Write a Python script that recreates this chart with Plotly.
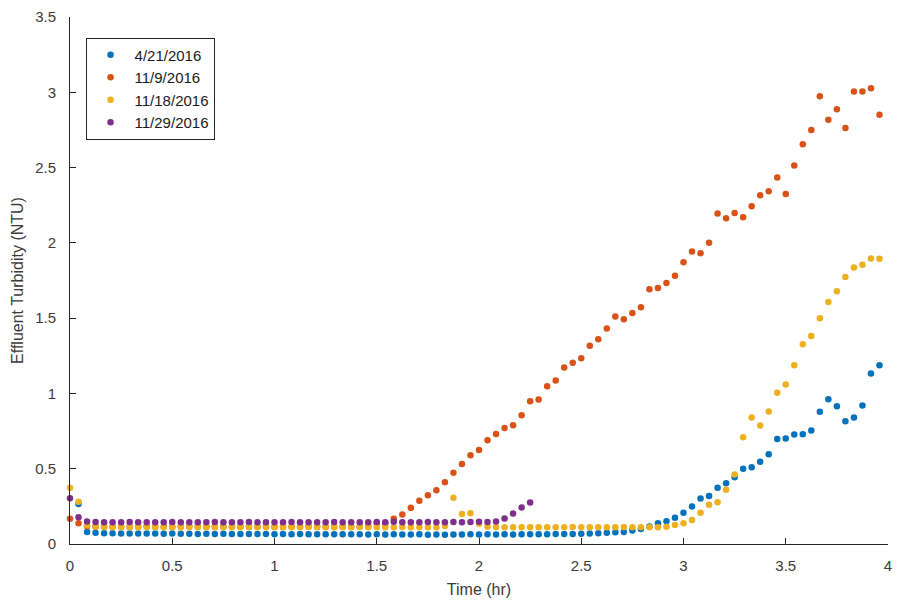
import plotly.graph_objects as go

# Sampling times (minutes from start of run), one reading every 2.5 min
time_min = [
    0, 2.5, 5, 7.5, 10, 12.5, 15, 17.5, 20, 22.5,
    25, 27.5, 30, 32.5, 35, 37.5, 40, 42.5, 45, 47.5,
    50, 52.5, 55, 57.5, 60, 62.5, 65, 67.5, 70, 72.5,
    75, 77.5, 80, 82.5, 85, 87.5, 90, 92.5, 95, 97.5,
    100, 102.5, 105, 107.5, 110, 112.5, 115, 117.5, 120, 122.5,
    125, 127.5, 130, 132.5, 135, 137.5, 140, 142.5, 145, 147.5,
    150, 152.5, 155, 157.5, 160, 162.5, 165, 167.5, 170, 172.5,
    175, 177.5, 180, 182.5, 185, 187.5, 190, 192.5, 195, 197.5,
    200, 202.5, 205, 207.5, 210, 212.5, 215, 217.5, 220, 222.5,
    225, 227.5, 230, 232.5, 235, 237.5,
]

# Effluent turbidity (NTU) per run
turb_0421 = [
    None, 0.265, 0.080, 0.074, 0.072, 0.071, 0.070, 0.070, 0.069, 0.070,
    0.069, 0.068, 0.069, 0.068, 0.068, 0.067, 0.068, 0.067, 0.068, 0.066,
    0.067, 0.066, 0.066, 0.067, 0.065, 0.066, 0.065, 0.066, 0.065, 0.064,
    0.065, 0.064, 0.065, 0.064, 0.064, 0.063, 0.064, 0.063, 0.064, 0.063,
    0.063, 0.064, 0.062, 0.063, 0.062, 0.063, 0.063, 0.064, 0.063, 0.064,
    0.063, 0.064, 0.063, 0.064, 0.065, 0.064, 0.065, 0.066, 0.066, 0.067,
    0.068, 0.070, 0.071, 0.074, 0.078, 0.080, 0.090, 0.100, 0.116, 0.138,
    0.151, 0.174, 0.207, 0.249, 0.302, 0.318, 0.373, 0.404, 0.444, 0.499,
    0.510, 0.546, 0.596, 0.698, 0.700, 0.727, 0.729, 0.753, 0.878, 0.962,
    0.915, 0.816, 0.840, 0.920, 1.132, 1.187,
]

turb_1109 = [
    0.167, 0.138, 0.118, 0.116, 0.115, 0.116, 0.115, 0.114, 0.115, 0.116,
    0.115, 0.114, 0.115, 0.116, 0.115, 0.115, 0.114, 0.115, 0.116, 0.115,
    0.114, 0.115, 0.115, 0.116, 0.115, 0.114, 0.115, 0.115, 0.116, 0.115,
    0.114, 0.115, 0.116, 0.115, 0.116, 0.118, 0.140, 0.135, 0.167, 0.196,
    0.240, 0.287, 0.324, 0.357, 0.410, 0.473, 0.532, 0.590, 0.625, 0.689,
    0.731, 0.771, 0.789, 0.855, 0.948, 0.959, 1.048, 1.086, 1.172, 1.203,
    1.234, 1.316, 1.360, 1.431, 1.511, 1.493, 1.534, 1.573, 1.692, 1.701,
    1.734, 1.781, 1.871, 1.942, 1.931, 2.000, 2.195, 2.164, 2.199, 2.170,
    2.243, 2.316, 2.343, 2.434, 2.325, 2.513, 2.655, 2.750, 2.973, 2.817,
    2.887, 2.763, 3.005, 3.005, 3.027, 2.850,
]

turb_1118 = [
    0.373, 0.280, 0.125, 0.114, 0.113, 0.112, 0.112, 0.111, 0.112, 0.113,
    0.112, 0.111, 0.112, 0.112, 0.113, 0.112, 0.111, 0.112, 0.112, 0.111,
    0.112, 0.113, 0.112, 0.111, 0.112, 0.112, 0.111, 0.112, 0.113, 0.112,
    0.112, 0.111, 0.112, 0.112, 0.113, 0.112, 0.111, 0.112, 0.112, 0.113,
    0.112, 0.112, 0.111, 0.112, 0.120, 0.307, 0.200, 0.205, 0.134, 0.114,
    0.113, 0.112, 0.112, 0.111, 0.112, 0.112, 0.111, 0.112, 0.112, 0.113,
    0.112, 0.112, 0.111, 0.112, 0.112, 0.113, 0.112, 0.112, 0.112, 0.112,
    0.114, 0.127, 0.138, 0.160, 0.207, 0.260, 0.278, 0.360, 0.461, 0.709,
    0.840, 0.787, 0.880, 1.004, 1.059, 1.187, 1.327, 1.381, 1.499, 1.608,
    1.679, 1.774, 1.836, 1.854, 1.896, 1.894,
]

turb_1129 = [
    0.304, 0.178, 0.150, 0.146, 0.145, 0.144, 0.145, 0.146, 0.145, 0.144,
    0.145, 0.145, 0.146, 0.145, 0.144, 0.145, 0.145, 0.146, 0.145, 0.144,
    0.145, 0.146, 0.145, 0.145, 0.144, 0.145, 0.146, 0.145, 0.144, 0.145,
    0.145, 0.146, 0.145, 0.144, 0.145, 0.145, 0.146, 0.145, 0.147, 0.145,
    0.144, 0.145, 0.146, 0.145, 0.145, 0.146, 0.145, 0.146, 0.147, 0.146,
    0.149, 0.170, 0.203, 0.243, 0.275,
]

run_labels = ["4/21/2016", "11/9/2016", "11/18/2016", "11/29/2016"]
run_values = [turb_0421, turb_1109, turb_1118, turb_1129]
run_colors = ["#0072BD", "#D95319", "#EDB120", "#7E2F8E"]

x_ticks = [0, 0.5, 1, 1.5, 2, 2.5, 3, 3.5, 4]
y_ticks = [0, 0.5, 1, 1.5, 2, 2.5, 3, 3.5]

FONT = "Liberation Sans, Arial, Helvetica, sans-serif"
INK = "#262626"
TEXT = "#3a3a3a"

fig = go.Figure()
for label, vals, color in zip(run_labels, run_values, run_colors):
    hours = [m / 60 for m in time_min[: len(vals)]]
    fig.add_trace(
        go.Scatter(
            x=hours,
            y=vals,
            mode="markers",
            name=label,
            marker=dict(color=color, size=6.5, line=dict(width=0)),
            cliponaxis=False,
        )
    )

axis_common = dict(
    showgrid=False,
    zeroline=False,
    showline=True,
    linecolor=INK,
    linewidth=1,
    mirror=False,
    ticks="inside",
    ticklen=6,
    tickwidth=1,
    tickcolor=INK,
    tickfont=dict(family=FONT, size=15, color=TEXT),
)

fig.update_layout(
    width=899,
    height=605,
    paper_bgcolor="white",
    plot_bgcolor="white",
    margin=dict(l=70, r=7, t=17, b=61),
    font=dict(family=FONT, color=TEXT),
    xaxis=dict(
        range=[0, 4],
        tickvals=x_ticks,
        ticktext=[f"{v:g}" for v in x_ticks],
        ticklabelstandoff=8,
        title=dict(text="Time (hr)", font=dict(family=FONT, size=16, color=TEXT), standoff=10),
        **axis_common,
    ),
    yaxis=dict(
        range=[0, 3.5],
        tickvals=y_ticks,
        ticktext=[f"{v:g}" for v in y_ticks],
        ticklabelstandoff=10,
        title=dict(text="Effluent Turbidity (NTU)", font=dict(family=FONT, size=16, color=TEXT), standoff=7),
        **axis_common,
    ),
    legend=dict(
        x=0.019,
        y=0.961,
        xanchor="left",
        yanchor="top",
        bgcolor="white",
        bordercolor=INK,
        borderwidth=1,
        font=dict(family=FONT, size=15, color="#1a1a1a"),
        itemwidth=38,
        tracegroupgap=0,
    ),
    showlegend=True,
)

fig.write_html("out.html")
